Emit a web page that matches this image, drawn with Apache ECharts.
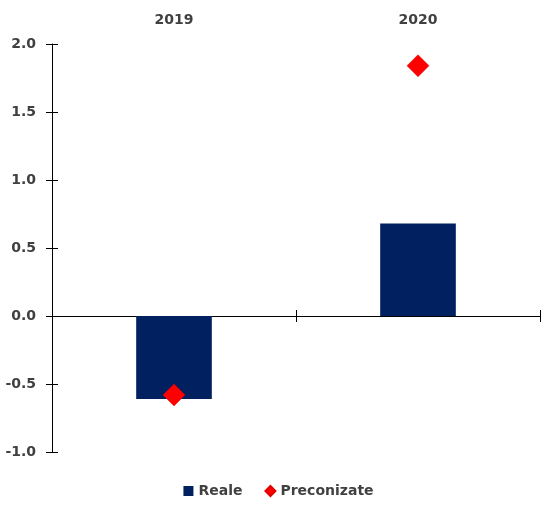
<!DOCTYPE html>
<html><head><meta charset="utf-8">
<script src="https://cdn.jsdelivr.net/npm/echarts@6/dist/echarts.min.js"></script>
<style>html,body{margin:0;padding:0;background:#fff}#c{width:557px;height:510px}</style>
</head><body><div id="c"></div>
<script>
var categories = ['2019', '2020'];
var realeValues = [-0.61, 0.68];
var preconizateValues = [-0.58, 1.84];
var yTicks = { min: -1.0, max: 2.0, interval: 0.5 };

var font = 'DejaVu Sans';
var chart = echarts.init(document.getElementById('c'));
var lineStyle = { color: '#000', width: 1 };
chart.setOption({
  animation: false,
  grid: { left: 52, right: 17, top: 44, bottom: 58, containLabel: false },
  legend: {
    bottom: 7, left: 'center', itemWidth: 10, itemHeight: 10, itemGap: 22,
    textStyle: { fontFamily: font, fontSize: 14, fontWeight: 'bold', color: '#404040' },
    data: [{ name: 'Reale', icon: 'rect' }, { name: 'Preconizate', icon: 'diamond' }]
  },
  xAxis: [
    { type: 'category', data: categories, position: 'bottom',
      axisLine: { show: true, onZero: true, lineStyle: lineStyle },
      axisTick: { show: true, inside: false, length: 6, lineStyle: lineStyle },
      axisLabel: { show: false }, splitLine: { show: false } },
    { type: 'category', data: categories, position: 'bottom',
      axisLine: { show: true, onZero: true, lineStyle: lineStyle },
      axisTick: { show: true, inside: true, length: 6, lineStyle: lineStyle },
      axisLabel: { show: false }, splitLine: { show: false } },
    { type: 'category', data: categories, position: 'top',
      axisLine: { show: false, onZero: false }, axisTick: { show: false },
      axisLabel: { show: true, margin: 17, fontFamily: font, fontSize: 14, fontWeight: 'bold', color: '#404040' },
      splitLine: { show: false } }
  ],
  yAxis: [
    { type: 'value', min: yTicks.min, max: yTicks.max, interval: yTicks.interval, position: 'left',
      axisLine: { show: true, lineStyle: lineStyle },
      axisTick: { show: true, inside: false, length: 6, lineStyle: lineStyle },
      axisLabel: { margin: 16, fontFamily: font, fontSize: 14, fontWeight: 'bold', color: '#404040',
        formatter: function (v) { return v.toFixed(1); } },
      splitLine: { show: false } },
    { type: 'value', min: yTicks.min, max: yTicks.max, interval: yTicks.interval, position: 'left',
      axisLine: { show: false },
      axisTick: { show: true, inside: true, length: 6, lineStyle: lineStyle },
      axisLabel: { show: false }, splitLine: { show: false } }
  ],
  series: [
    { name: 'Reale', type: 'bar', data: realeValues, barWidth: '31%', xAxisIndex: 0, yAxisIndex: 0,
      itemStyle: { color: '#002060' } },
    { name: 'Preconizate', type: 'scatter', data: preconizateValues, xAxisIndex: 0, yAxisIndex: 0,
      symbol: 'diamond', symbolSize: 22, z: 5,
      itemStyle: { color: '#ff0000', borderColor: '#e00000', borderWidth: 0.5, opacity: 1 } }
  ]
});
</script></body></html>
